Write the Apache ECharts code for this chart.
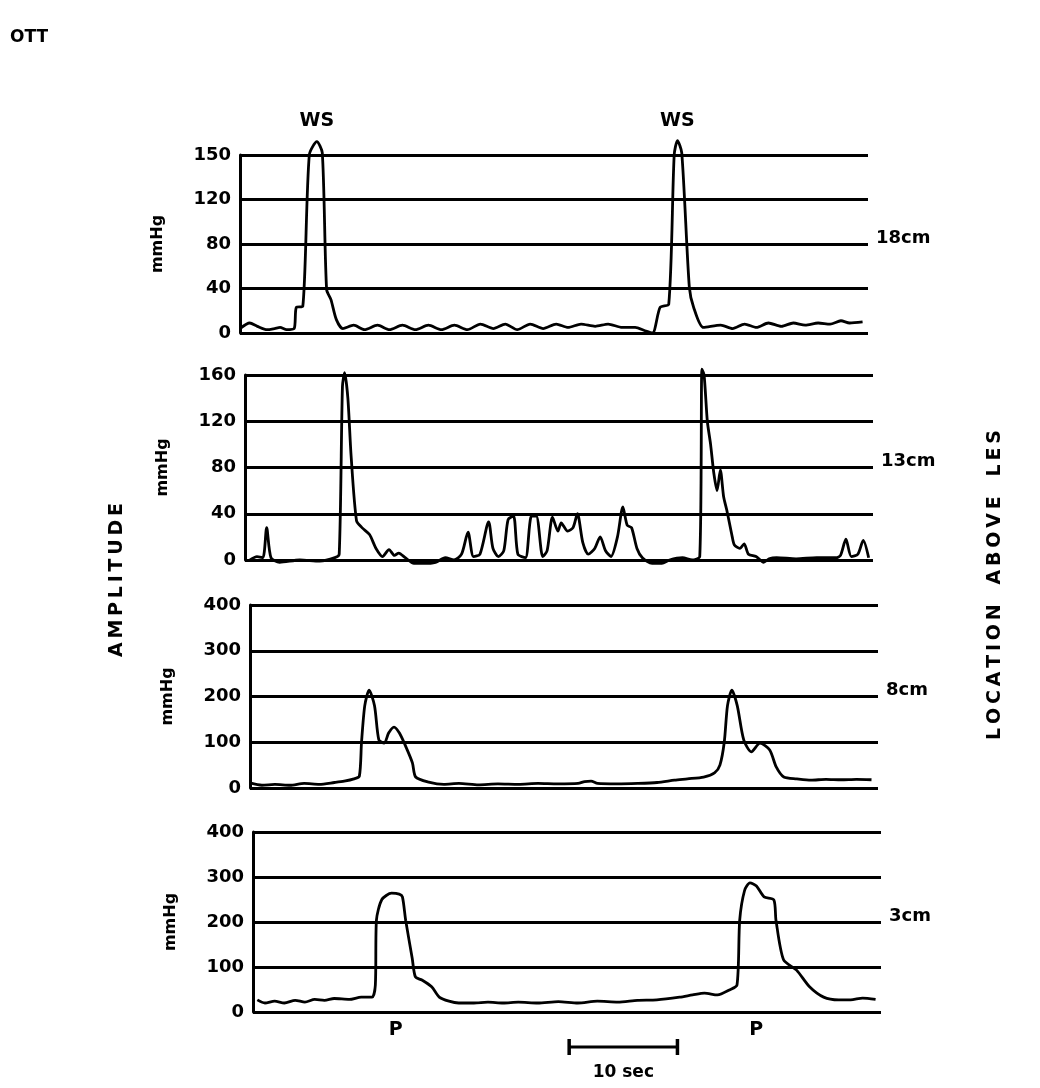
<!DOCTYPE html>
<html>
<head>
<meta charset="utf-8">
<script src="https://cdn.jsdelivr.net/npm/echarts@6/dist/echarts.min.js"></script>
<style>
html,body{margin:0;padding:0;background:#fff;}
#c{width:1040px;height:1088px;}
</style>
</head>
<body>
<div id="c"></div>
<script>
// ---- DATA ----
// time axis in seconds (0..58), pressure in mmHg
var panelNames = ['18cm', '13cm', '8cm', '3cm'];
var ticks18 = ['0', '40', '80', '120', '150'];
var ticks13 = ['0', '40', '80', '120', '160'];
var ticks8  = ['0', '100', '200', '300', '400'];
var ticks3  = ['0', '100', '200', '300', '400'];

var trace18 = [
 [0,4],[0.9,9],[1.6,6],[2.5,3],[3.2,4],[3.7,5],[4.3,3],[5.0,4],[5.2,23],[5.8,24],
 [6.4,160],[7.1,172],[7.6,162],[8.0,39],[8.4,30],[8.9,12],[9.5,4],
 [10.5,7],[11.5,3],[12.7,7],[13.8,3],[15.0,7],[16.2,3],[17.4,7],[18.6,3],[19.8,7],
 [21.0,3],[22.2,8],[23.4,4],[24.5,8],[25.6,3],[26.8,8],[28.0,4],[29.2,8],[30.3,5],
 [31.5,8],[32.8,6],[34.0,8],[35.3,5],[36.5,5],[37.4,2],[38.1,0],
 [38.8,23],[39.6,26],[40.1,160],[40.4,173],[40.8,162],[41.5,41],[41.9,23],[42.8,5],
 [44.4,7],[45.5,4],[46.6,8],[47.7,5],[48.8,9],[50.0,6],[51.1,9],[52.2,7],[53.4,9],
 [54.5,8],[55.5,11],[56.3,9],[57.5,10]
];

var trace13 = [
 [0.46,0],[1.1,3],[1.65,2],[2.0,28],[2.4,2],[3.2,-2],[5.05,0],[6.9,-1],[8.3,2],[8.7,5],
 [9.0,150],[9.2,162],[9.5,140],[9.8,90],[10.3,34],[10.8,28],[11.5,22],[12.1,10],[12.7,3],
 [13.3,9],[13.8,4],[14.2,6],[14.8,2],[15.6,-3],[16.5,-3],[17.6,-2],[18.5,2],[19.3,0],
 [20.0,5],[20.6,24],[21.1,3],[21.7,5],[22.5,33],[22.9,10],[23.4,3],[23.9,8],[24.3,35],
 [24.8,38],[25.2,5],[25.9,2],[26.4,37],[26.9,38],[27.5,3],[27.9,8],[28.4,37],[28.9,25],
 [29.2,32],[29.8,25],[30.3,28],[30.7,40],[31.2,15],[31.7,5],[32.3,10],[32.8,20],[33.3,8],
 [33.8,3],[34.4,20],[34.9,46],[35.3,30],[35.7,28],[36.2,10],[36.7,2],[37.6,-3],[38.5,-3],
 [39.2,0],[40.4,2],[41.3,0],[42.0,3],[42.2,165],[42.4,160],[42.7,120],[43.0,100],
 [43.3,75],[43.6,60],[43.9,78],[44.2,55],[44.5,43],[45.0,20],[45.2,13],[45.7,10],
 [46.1,14],[46.5,5],[47.2,3],[47.9,-2],[48.4,1],[49.1,2],[50.9,1],[52.8,2],[54.6,2],
 [55.0,4],[55.5,18],[56.0,3],[56.6,5],[57.1,17],[57.6,2]
];

var trace8 = [
 [0,11],[1.1,6],[2.3,8],[3.7,6],[5.0,10],[6.4,8],[7.8,12],[8.7,15],[9.6,20],[10.1,26],
 [10.3,100],[10.6,180],[11.0,214],[11.5,180],[11.9,105],[12.4,98],[12.8,120],[13.3,133],
 [13.8,120],[14.4,90],[15.0,55],[15.3,24],[16.5,13],[17.9,8],[19.3,10],[21.1,7],[22.9,9],
 [24.8,8],[26.6,10],[28.4,9],[30.3,10],[30.9,14],[31.5,15],[32.1,10],[33.9,9],[35.8,10],
 [37.6,12],[39.2,17],[40.4,20],[41.9,24],[42.9,33],[43.4,50],[43.8,100],[44.1,180],
 [44.5,214],[45.0,180],[45.6,105],[46.3,79],[47.1,98],[48.0,83],[48.6,46],[49.3,24],
 [50.5,20],[51.8,17],[53.2,19],[54.6,18],[56.0,19],[57.4,18]
];

var trace3 = [
 [0.4,27],[1.1,20],[2.0,24],[2.9,20],[3.9,26],[4.8,22],[5.7,28],[6.6,26],[7.5,30],[8.9,28],
 [10.0,33],[11.0,33],[11.3,60],[11.4,204],[11.9,250],[12.8,264],[13.5,262],[13.8,256],
 [14.1,204],[14.7,120],[15.0,78],[15.6,71],[16.5,56],[17.2,33],[18.1,24],[19.0,20],
 [20.4,20],[21.7,22],[23.1,20],[24.5,22],[26.3,20],[28.2,23],[30.0,20],[31.8,24],
 [33.7,22],[35.5,26],[37.3,27],[39.4,33],[40.6,38],[41.7,42],[42.9,38],[44.0,49],
 [44.7,60],[44.95,204],[45.4,270],[45.9,287],[46.5,280],[47.2,256],[48.1,249],[48.3,204],
 [49.0,116],[50.2,93],[51.4,56],[52.7,33],[54.1,27],[55.2,27],[56.3,31],[57.5,28]
];

var wsTimes = [7.1, 40.4];     // swallow markers, panel 18cm
var pTimes = [13.0, 46.3];     // peristalsis markers, panel 3cm
var scaleBarStart = 29.2, scaleBarLen = 10; // seconds

// ---- CHART ----
var chart = echarts.init(document.getElementById('c'));
var INK = '#000';
var FONT = '"DejaVu Sans", "Liberation Sans", Arial, sans-serif';

var panels = [
  {top:155, h:178, left:240, max:160, step:40, ticks:ticks18, data:trace18},
  {top:375, h:185, left:245, max:160, step:40, ticks:ticks13, data:trace13},
  {top:605, h:183, left:250, max:400, step:100, ticks:ticks8, data:trace8},
  {top:832, h:180, left:253, max:400, step:100, ticks:ticks3, data:trace3}
];

var grids = [], xAxes = [], yAxes = [], series = [];
panels.forEach(function(p, i){
  grids.push({left:p.left, top:p.top, width:628, height:p.h, containLabel:false});
  xAxes.push({type:'value', gridIndex:i, min:0, max:58, show:false});
  yAxes.push({
    type:'value', gridIndex:i, min:0, max:p.max, interval:p.step,
    name:'mmHg', nameLocation:'middle', nameGap:74, nameRotate:90,
    nameTextStyle:{color:INK, fontSize:16, fontWeight:'bold', fontFamily:FONT},
    axisLine:{show:true, lineStyle:{color:INK, width:3}},
    axisTick:{show:false},
    axisLabel:{color:INK, fontSize:18, fontWeight:'bold', fontFamily:FONT, margin:9,
      formatter:(function(t, s){ return function(v){ return t[Math.round(v/s)]; }; })(p.ticks, p.step)},
    splitLine:{show:true, lineStyle:{color:INK, width:3}}
  });
  series.push({
    type:'line', xAxisIndex:i, yAxisIndex:i, data:p.data, showSymbol:false,
    smooth:0.25, clip:false, animation:false,
    lineStyle:{color:INK, width:2.8}
  });
});

chart.setOption({
  animation:false,
  backgroundColor:'#fff',
  grid:grids, xAxis:xAxes, yAxis:yAxes, series:series
});

function px(axis, t, v){ return chart.convertToPixel({xAxisIndex:axis, yAxisIndex:axis}, [t, v]); }
function txt(x, y, s, size, rot){
  return {type:'text', x:x, y:y, rotation:rot||0, silent:true,
    style:{text:s, fill:INK, font:'bold '+size+'px '+FONT, align:'center', verticalAlign:'middle'}};
}

var g = [];
g.push({type:'text', x:10, y:38, silent:true,
  style:{text:'OTT', fill:INK, font:'bold 17px '+FONT, align:'left', verticalAlign:'middle'}});
// location labels next to each panel
var locVals = [80, 80, 200, 200];
panels.forEach(function(p, i){
  var pt = px(i, 58, locVals[i]);
  g.push({type:'text', x:pt[0]+8, y:pt[1]-6, silent:true,
    style:{text:panelNames[i], fill:INK, font:'bold 18px '+FONT, align:'left', verticalAlign:'middle'}});
});
wsTimes.forEach(function(t){
  var pt = px(0, t, 160);
  g.push(txt(pt[0], 121, 'WS', 19));
});
pTimes.forEach(function(t){
  var pt = px(3, t, 0);
  g.push(txt(pt[0]+2, pt[1]+18, 'P', 19));
});
var a = px(3, scaleBarStart, 0), b = px(3, scaleBarStart + scaleBarLen, 0);
var yb = a[1] + 35;
g.push({type:'line', silent:true, shape:{x1:a[0], y1:yb, x2:b[0], y2:yb}, style:{stroke:INK, lineWidth:3}});
g.push({type:'line', silent:true, shape:{x1:a[0], y1:yb-8, x2:a[0], y2:yb+8}, style:{stroke:INK, lineWidth:3.5}});
g.push({type:'line', silent:true, shape:{x1:b[0], y1:yb-8, x2:b[0], y2:yb+8}, style:{stroke:INK, lineWidth:3.5}});
g.push(txt((a[0]+b[0])/2, yb+26, '10 sec', 17));
g.push(txt(117, 580, 'A\u2009M\u2009P\u2009L\u2009I\u2009T\u2009U\u2009D\u2009E', 19, Math.PI/2));
g.push(txt(995, 585, 'L\u2009O\u2009C\u2009A\u2009T\u2009I\u2009O\u2009N   A\u2009B\u2009O\u2009V\u2009E   L\u2009E\u2009S', 19, Math.PI/2));

chart.setOption({graphic:g});
</script>
</body>
</html>
